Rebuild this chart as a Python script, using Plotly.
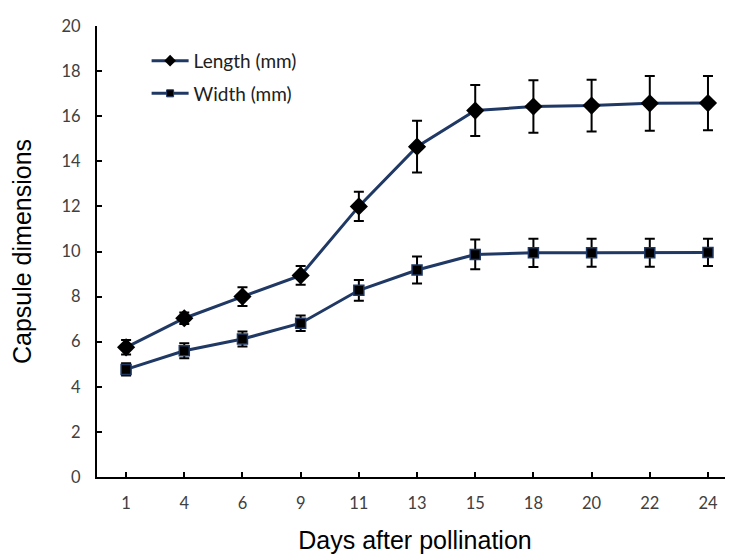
import plotly.graph_objects as go

days = ["1", "4", "6", "9", "11", "13", "15", "18", "20", "22", "24"]
length_mm = [5.75, 7.04, 8.0, 8.94, 12.0, 14.65, 16.25, 16.43, 16.47, 16.57, 16.58]
length_err = [0.32, 0.25, 0.42, 0.42, 0.65, 1.15, 1.13, 1.16, 1.15, 1.21, 1.2]
width_mm = [4.77, 5.6, 6.12, 6.82, 8.28, 9.18, 9.87, 9.94, 9.94, 9.94, 9.96]
width_err = [0.27, 0.33, 0.33, 0.34, 0.46, 0.6, 0.66, 0.63, 0.62, 0.62, 0.6]

line_col = "#1F3864"
xi = list(range(len(days)))

fig = go.Figure()
fig.add_trace(go.Scatter(
    x=xi, y=length_mm, name="Length (mm)", mode="lines+markers",
    line=dict(color=line_col, width=3),
    marker=dict(symbol="diamond", size=14, color="black", line=dict(color="black", width=0)),
    error_y=dict(type="data", array=length_err, visible=True, color="black", thickness=2, width=5),
    showlegend=False,
))
fig.add_trace(go.Scatter(
    x=xi, y=width_mm, name="Width (mm)", mode="lines+markers",
    line=dict(color=line_col, width=3),
    marker=dict(symbol="square", size=10, color="black", line=dict(color=line_col, width=1.5)),
    error_y=dict(type="data", array=width_err, visible=True, color="black", thickness=2, width=5),
    showlegend=False,
))
# legend entries (smaller symbols, as in the original legend)
fig.add_trace(go.Scatter(
    x=[None], y=[None], name="Length (mm)", mode="lines+markers",
    line=dict(color=line_col, width=3),
    marker=dict(symbol="diamond", size=9, color="black"),
    legendgroup="a",
))
fig.add_trace(go.Scatter(
    x=[None], y=[None], name="Width (mm)", mode="lines+markers",
    line=dict(color=line_col, width=3),
    marker=dict(symbol="square", size=7, color="black", line=dict(color=line_col, width=1)),
    legendgroup="b",
))

fig.update_layout(
    width=733, height=554,
    margin=dict(l=89, r=8, t=12, b=85),
    paper_bgcolor="white", plot_bgcolor="white",
    showlegend=True,
    legend=dict(x=0.078, y=0.965, xanchor="left", yanchor="top",
                font=dict(family="Lato", size=19, color="#202020"),
                bgcolor="rgba(0,0,0,0)", tracegroupgap=5, traceorder="grouped",
                itemwidth=37),
    xaxis=dict(
        range=[-0.5, 10.43], tickvals=xi, ticktext=days,
        showgrid=False, zeroline=False,
        showline=True, linecolor="black", linewidth=2,
        ticks="inside", ticklen=5, tickwidth=2, tickcolor="black",
        tickfont=dict(family="Lato", size=16.5, color="#404040"),
        ticklabelstandoff=10,
        title=dict(text="Days after pollination", font=dict(family="Liberation Sans", size=25, color="black"), standoff=20),
    ),
    yaxis=dict(
        range=[0, 20], tickvals=list(range(0, 21, 2)),
        showgrid=False, zeroline=False,
        showline=True, linecolor="black", linewidth=2,
        ticks="inside", ticklen=5, tickwidth=2, tickcolor="black",
        tickfont=dict(family="Lato", size=16.5, color="#404040"),
        ticklabelstandoff=11,
        title=dict(text="Capsule dimensions", font=dict(family="Liberation Sans", size=25, color="black"), standoff=25),
    ),
)

fig.write_html("out.html")
